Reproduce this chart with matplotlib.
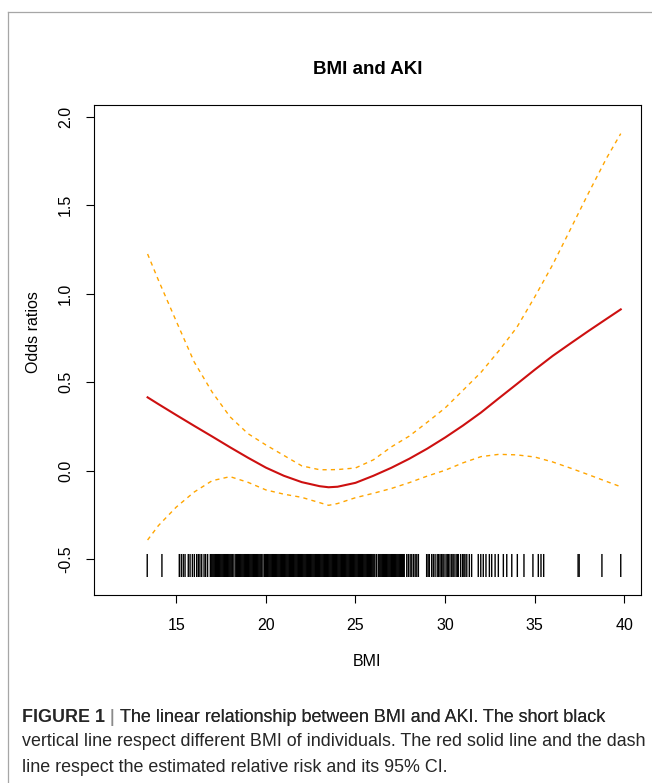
import matplotlib
matplotlib.use('Agg')
import matplotlib.pyplot as plt
from matplotlib.lines import Line2D

plt.rcParams['font.family'] = ['Liberation Sans', 'DejaVu Sans']

# BMI grid the fitted curve was read at
bmi = [13.4, 14, 15, 16, 17, 18, 19, 20, 21, 22, 23, 23.5, 24, 25, 26, 27,
       28, 29, 30, 31, 32, 33, 34, 35, 36, 37, 38, 39, 39.8]

# fitted log odds ratio (red line)
fit = [0.415, 0.377, 0.315, 0.254, 0.194, 0.133, 0.074, 0.018, -0.028, -0.064,
       -0.087, -0.093, -0.090, -0.068, -0.028, 0.017, 0.068, 0.125, 0.188,
       0.256, 0.329, 0.410, 0.490, 0.571, 0.649, 0.720, 0.790, 0.858, 0.912]

# 95% CI (orange dashed)
upper = [1.225, 1.078, 0.845, 0.615, 0.445, 0.305, 0.210, 0.146, 0.087, 0.028,
         0.006, 0.006, 0.007, 0.016, 0.062, 0.135, 0.196, 0.274, 0.355, 0.455,
         0.556, 0.678, 0.810, 0.982, 1.164, 1.366, 1.569, 1.765, 1.905]
lower = [-0.391, -0.310, -0.205, -0.120, -0.056, -0.033, -0.065, -0.108, -0.132,
         -0.150, -0.180, -0.195, -0.185, -0.152, -0.127, -0.100, -0.067, -0.030,
         0.003, 0.045, 0.080, 0.093, 0.090, 0.078, 0.050, 0.015, -0.022, -0.060,
         -0.090]

# individual BMI values (rug): sparse low end
rug_low = [13.38, 14.2, 15.17, 15.28, 15.39, 15.49, 15.67, 15.77, 15.90, 16.01,
           16.14, 16.23, 16.32, 16.42, 16.55, 16.64, 16.75]
# dense middle, where the marks merge into a black band
rug_mid = [16.90, 16.95, 17.00, 17.05, 17.10, 17.15, 17.20, 17.25, 17.30, 17.35,
           17.40, 17.45, 17.50, 17.55, 17.60, 17.65, 17.70, 17.75, 17.80, 17.85,
           17.90, 17.95, 18.00, 18.05, 18.10, 18.15, 18.22, 18.32, 18.37, 18.42,
           18.47, 18.52, 18.57, 18.62, 18.67, 18.72, 18.77, 18.82, 18.87, 18.92,
           18.97, 19.02, 19.07, 19.12, 19.17, 19.22, 19.27, 19.32, 19.37, 19.42,
           19.47, 19.52, 19.57, 19.62, 19.67, 19.72, 19.77, 19.84, 19.93, 19.98,
           20.03, 20.08, 20.13, 20.18, 20.23, 20.28, 20.33, 20.38, 20.43, 20.48,
           20.53, 20.58, 20.63, 20.68, 20.73, 20.78, 20.83, 20.88, 20.93, 20.98,
           21.03, 21.08, 21.13, 21.18, 21.23, 21.28, 21.33, 21.38, 21.43, 21.48,
           21.53, 21.58, 21.63, 21.68, 21.73, 21.78, 21.83, 21.88, 21.93, 21.98,
           22.03, 22.08, 22.13, 22.18, 22.23, 22.28, 22.33, 22.38, 22.43, 22.48,
           22.53, 22.58, 22.63, 22.68, 22.73, 22.78, 22.83, 22.88, 22.93, 22.98,
           23.03, 23.08, 23.13, 23.18, 23.23, 23.28, 23.33, 23.38, 23.43, 23.48,
           23.53, 23.58, 23.63, 23.68, 23.73, 23.78, 23.83, 23.88, 23.93, 23.98,
           24.03, 24.08, 24.13, 24.18, 24.23, 24.28, 24.33, 24.38, 24.43, 24.48,
           24.53, 24.58, 24.63, 24.68, 24.73, 24.78, 24.83, 24.88, 24.93, 24.98,
           25.03, 25.08, 25.13, 25.18, 25.23, 25.28, 25.33, 25.38, 25.43, 25.48,
           25.53, 25.58, 25.63, 25.68, 25.73, 25.78, 25.83, 25.88, 25.93, 25.98,
           26.03, 26.08, 26.17, 26.27, 26.32, 26.37, 26.42, 26.47, 26.52, 26.57,
           26.62, 26.67, 26.72, 26.77, 26.82, 26.87, 26.92, 26.97, 27.02, 27.07,
           27.12, 27.17, 27.22, 27.27, 27.32, 27.37, 27.42, 27.47, 27.52, 27.57,
           27.62, 27.67, 27.72]
# sparse high end
rug_high = [27.86, 27.95, 28.05, 28.14, 28.24, 28.33, 28.42, 28.51, 28.97, 29.05,
            29.12, 29.25, 29.34, 29.44, 29.56, 29.64, 29.72, 29.81, 29.88, 29.94,
            30.05, 30.12, 30.18, 30.27, 30.37, 30.44, 30.50, 30.61, 30.68, 30.74,
            30.87, 30.98, 31.05, 31.11, 31.21, 31.35, 31.48, 31.85, 31.99, 32.13,
            32.28, 32.47, 32.60, 32.79, 32.97, 33.25, 33.44, 33.72, 34.03, 34.4,
            34.9, 35.2, 35.35, 35.5, 37.42, 37.48, 38.75, 39.8]

x_ticks = [15, 20, 25, 30, 35, 40]
y_ticks = [-0.5, 0.0, 0.5, 1.0, 1.5, 2.0]
y_ticklabels = ['-0.5', '0.0', '0.5', '1.0', '1.5', '2.0']

W, H = 652, 783
fig = plt.figure(figsize=(W / 100, H / 100), dpi=100)
fig.patch.set_facecolor('white')


def fx(px):
    return px / W


def fy(py):
    return 1 - py / H


# grey frame of the figure panel
fig.add_artist(Line2D([fx(8), fx(8)], [fy(12), 0], color='#a6a6a6', lw=0.9))
fig.add_artist(Line2D([fx(8), 1], [fy(12), fy(12)], color='#a6a6a6', lw=0.9))

ax = fig.add_axes([fx(94), fy(595.3), fx(641) - fx(94), fy(105) - fy(595.3)])

bmi_rug = rug_low + rug_mid + rug_high
ax.vlines(bmi_rug, -0.60, -0.47, color='black', lw=1.0, snap=False)
ax.plot(bmi, upper, color='#FFA500', lw=1.0, dashes=(3, 3))
ax.plot(bmi, lower, color='#FFA500', lw=1.0, dashes=(3, 3))
ax.plot(bmi, fit, color='#CD1010', lw=1.5)

ax.set_xlim(10.41, 40.93)
ax.set_ylim(-0.7034, 2.0667)
ax.set_xticks(x_ticks)
ax.set_yticks(y_ticks)
ax.set_yticklabels(y_ticklabels, rotation=90, va='center')
ax.tick_params(axis='both', direction='out', length=6, width=0.8,
               labelsize=11.5, colors='black')
ax.tick_params(axis='x', pad=10)
ax.tick_params(axis='y', pad=9)
for s in ax.spines.values():
    s.set_linewidth(0.8)
    s.set_color('black')

fig.text(fx(367.5), fy(69), 'BMI and AKI', ha='center', va='center',
         fontsize=13.5, fontweight='bold')
fig.text(fx(367.5), fy(661), 'BMI', ha='center', va='center', fontsize=11.5)
fig.text(fx(34), fy(332), 'Odds ratios', ha='center', va='center',
         fontsize=11.5, rotation=90)

# caption
cap_color = '#262626'
cap_size = 12.85
t1 = fig.text(fx(22), fy(717), 'FIGURE 1', ha='left', va='center',
              fontsize=cap_size, fontweight='bold', color=cap_color)
bar = plt.annotate(' | ', xy=(1, 0), xycoords=t1, va='bottom', ha='left',
                   fontsize=cap_size, color='#8a8a8a', annotation_clip=False)
fig.add_artist(bar)
rest = plt.annotate('The linear relationship between BMI and AKI. The short black',
                    xy=(1, 0), xycoords=bar, va='bottom', ha='left',
                    fontsize=cap_size, color=cap_color, annotation_clip=False)
fig.add_artist(rest)
fig.text(fx(22), fy(742), 'vertical line respect different BMI of individuals. '
         'The red solid line and the dash', ha='left', va='center',
         fontsize=cap_size, color=cap_color)
fig.text(fx(22), fy(767), 'line respect the estimated relative risk and its 95% CI.',
         ha='left', va='center', fontsize=cap_size, color=cap_color)

fig.savefig('out.png', dpi=100)
